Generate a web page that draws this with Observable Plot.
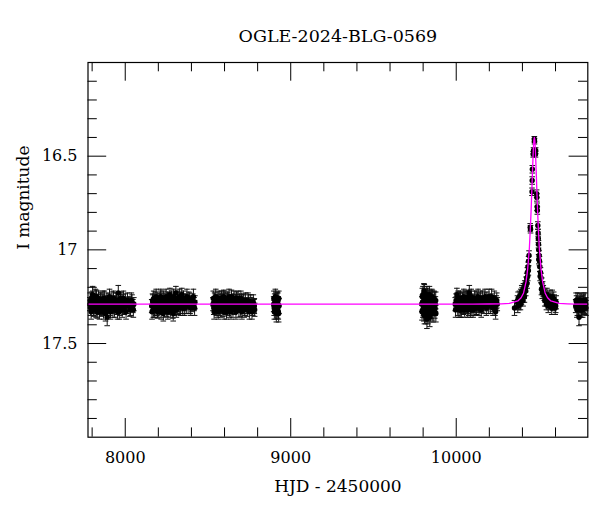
<!DOCTYPE html>
<html>
<head>
<meta charset="utf-8">
<script src="https://cdn.jsdelivr.net/npm/d3@7"></script>
<script src="https://cdn.jsdelivr.net/npm/@observablehq/plot@0.6"></script>
<style>
  html, body { margin: 0; padding: 0; background: #fff; }
  #chart { width: 600px; height: 512px; }
</style>
</head>
<body>
<div id="chart"></div>
<script>
const title = "OGLE-2024-BLG-0569";
const xLabel = "HJD - 2450000";
const yLabel = "I magnitude";
const xDomain = [7775, 10795];
const yDomain = [16, 18];
const xMajorTicks = [8000, 9000, 10000];
const xMinorTicks = [7800, 8200, 8400, 8600, 8800, 9200, 9400, 9600, 9800, 10200, 10400, 10600];
const yMajorTicks = [16.5, 17, 17.5];
const yMinorTicks = [16.1, 16.2, 16.3, 16.4, 16.6, 16.7, 16.8, 16.9, 17.1, 17.2, 17.3, 17.4, 17.6, 17.7, 17.8, 17.9];

// [HJD-2450000, I mag, error]
const season2017 = [[7786,17.29,.035],[7791,17.31,.04],[7796,17.26,.035],[7801,17.30,.035],[7803,17.24,.045],[7806,17.28,.04],[7811,17.32,.035],[7816,17.27,.035],[7821,17.30,.04],[7826,17.25,.035],[7831,17.33,.035],[7836,17.28,.04],[7841,17.31,.035],[7846,17.29,.035],[7851,17.27,.04],[7856,17.32,.035],[7861,17.29,.035],[7866,17.26,.04],[7871,17.31,.035],[7876,17.30,.035],[7881,17.34,.04],[7886,17.28,.035],[7891,17.36,.045],[7896,17.29,.035],[7902,17.27,.035],[7908,17.31,.04],[7914,17.29,.035],[7920,17.26,.035],[7926,17.32,.04],[7932,17.28,.035],[7938,17.30,.035],[7944,17.27,.04],[7950,17.31,.035],[7957,17.29,.035],[7958,17.23,.04],[7964,17.33,.04],[7971,17.26,.035],[7978,17.30,.035],[7985,17.28,.04],[7993,17.31,.035],[8001,17.27,.035],[8010,17.30,.04],[8019,17.29,.035],[8028,17.32,.035],[8037,17.27,.04],[8046,17.30,.035],[8052,17.29,.035],
  [7788,17.27,.04],[7794,17.33,.04],[7799,17.29,.04],[7804,17.26,.04],[7809,17.31,.04],[7814,17.29,.04],[7819,17.25,.04],[7824,17.32,.04],[7829,17.28,.04],[7834,17.30,.04],[7839,17.26,.04],[7844,17.33,.04],[7849,17.30,.04],[7854,17.27,.04],[7859,17.31,.04],[7864,17.28,.04],[7869,17.33,.04],[7874,17.26,.04],[7879,17.29,.04],[7884,17.31,.04],[7889,17.27,.04],[7894,17.32,.04],[7899,17.30,.04],[7905,17.25,.04],[7911,17.33,.04],[7917,17.29,.04],[7923,17.30,.04],[7929,17.26,.04],[7935,17.32,.04],[7941,17.29,.04],[7947,17.27,.04],[7953,17.33,.04],[7961,17.28,.04],[7968,17.31,.04],[7975,17.27,.04],[7982,17.32,.04],[7989,17.26,.04],[7997,17.30,.04],[8005,17.33,.04],[8014,17.27,.04],[8023,17.29,.04],[8032,17.31,.04],[8041,17.28,.04],[8049,17.32,.04]];
const season2018 = [[8160,17.30,.035],[8165,17.27,.035],[8170,17.32,.04],[8175,17.29,.035],[8180,17.26,.035],[8185,17.31,.04],[8190,17.28,.035],[8195,17.33,.035],[8200,17.29,.04],[8205,17.27,.035],[8210,17.30,.035],[8215,17.25,.04],[8220,17.31,.035],[8225,17.28,.035],[8230,17.34,.04],[8235,17.29,.035],[8240,17.27,.035],[8245,17.30,.04],[8250,17.32,.035],[8255,17.26,.035],[8260,17.29,.04],[8265,17.31,.035],[8270,17.24,.035],[8276,17.30,.04],[8282,17.28,.035],[8288,17.33,.035],[8290,17.34,.04],[8294,17.27,.04],[8300,17.30,.035],[8306,17.23,.035],[8312,17.29,.04],[8318,17.31,.035],[8324,17.26,.035],[8330,17.30,.04],[8336,17.28,.035],[8342,17.24,.035],[8348,17.31,.04],[8355,17.29,.035],[8362,17.27,.035],[8369,17.30,.04],[8376,17.28,.035],[8384,17.26,.035],[8392,17.30,.04],[8400,17.28,.035],[8408,17.27,.035],[8416,17.29,.035],[8421,17.28,.035],
  [8162,17.33,.04],[8167,17.28,.04],[8172,17.26,.04],[8177,17.32,.04],[8182,17.29,.04],[8187,17.25,.04],[8192,17.31,.04],[8197,17.27,.04],[8202,17.32,.04],[8207,17.30,.04],[8212,17.26,.04],[8217,17.33,.04],[8222,17.27,.04],[8227,17.30,.04],[8232,17.26,.04],[8237,17.32,.04],[8242,17.29,.04],[8247,17.25,.04],[8252,17.30,.04],[8257,17.33,.04],[8262,17.27,.04],[8267,17.29,.04],[8273,17.32,.04],[8279,17.26,.04],[8285,17.29,.04],[8291,17.25,.04],[8297,17.31,.04],[8303,17.28,.04],[8309,17.32,.04],[8315,17.26,.04],[8321,17.29,.04],[8327,17.25,.04],[8333,17.31,.04],[8339,17.27,.04],[8345,17.30,.04],[8352,17.26,.04],[8359,17.31,.04],[8366,17.28,.04],[8373,17.25,.04],[8380,17.30,.04],[8388,17.27,.04],[8396,17.31,.04],[8404,17.29,.04],[8412,17.25,.04],[8419,17.31,.04]];
const season2019 = [[8530,17.29,.035],[8535,17.31,.035],[8540,17.27,.04],[8545,17.30,.035],[8550,17.28,.035],[8555,17.32,.04],[8560,17.26,.035],[8565,17.29,.035],[8570,17.31,.04],[8575,17.27,.035],[8580,17.30,.035],[8585,17.28,.04],[8590,17.32,.035],[8595,17.25,.035],[8600,17.29,.04],[8605,17.31,.035],[8610,17.27,.035],[8615,17.30,.04],[8620,17.26,.035],[8625,17.29,.035],[8630,17.32,.04],[8636,17.28,.035],[8642,17.25,.035],[8648,17.30,.04],[8654,17.27,.035],[8660,17.31,.035],[8666,17.28,.04],[8672,17.26,.035],[8678,17.30,.035],[8684,17.29,.04],[8690,17.27,.035],[8696,17.32,.035],[8702,17.28,.04],[8709,17.30,.035],[8716,17.27,.035],[8723,17.31,.04],[8730,17.29,.035],[8738,17.32,.035],[8746,17.28,.04],[8754,17.30,.035],[8762,17.29,.035],[8770,17.31,.04],[8778,17.30,.035],[8782,17.32,.035],
  [8532,17.26,.04],[8537,17.33,.04],[8542,17.29,.04],[8547,17.25,.04],[8552,17.31,.04],[8557,17.28,.04],[8562,17.33,.04],[8567,17.26,.04],[8572,17.30,.04],[8577,17.32,.04],[8582,17.26,.04],[8587,17.30,.04],[8592,17.27,.04],[8597,17.33,.04],[8602,17.26,.04],[8607,17.29,.04],[8612,17.33,.04],[8617,17.27,.04],[8622,17.31,.04],[8627,17.25,.04],[8633,17.30,.04],[8639,17.33,.04],[8645,17.28,.04],[8651,17.32,.04],[8657,17.26,.04],[8663,17.30,.04],[8669,17.33,.04],[8675,17.28,.04],[8681,17.26,.04],[8687,17.32,.04],[8693,17.29,.04],[8699,17.26,.04],[8705,17.33,.04],[8712,17.28,.04],[8719,17.32,.04],[8726,17.27,.04],[8734,17.30,.04],[8742,17.27,.04],[8750,17.33,.04],[8758,17.28,.04],[8766,17.33,.04],[8774,17.28,.04],[8780,17.30,.04]];
const season2020 = [[8897,17.29,.04],[8900,17.31,.04],[8903,17.27,.035],[8906,17.30,.04],[8909,17.33,.04],[8912,17.28,.035],[8915,17.30,.04],[8918,17.26,.035],[8921,17.32,.045],[8924,17.29,.04],[8927,17.34,.045],[8929,17.30,.04],
  [8898,17.26,.04],[8901,17.33,.04],[8904,17.29,.04],[8907,17.25,.04],[8910,17.31,.04],[8913,17.34,.045],[8916,17.27,.04],[8919,17.31,.04],[8922,17.27,.04],[8925,17.33,.04],[8928,17.26,.04]];
const season2022 = [[9792,17.29,.04],[9795,17.25,.045],[9798,17.32,.04],[9801,17.28,.045],[9804,17.34,.04],[9805,17.22,.04],[9807,17.23,.045],[9810,17.30,.04],[9813,17.27,.045],[9816,17.35,.045],[9819,17.29,.04],[9822,17.24,.045],[9823,17.37,.05],[9825,17.31,.04],[9828,17.28,.045],[9831,17.33,.04],[9834,17.26,.045],[9837,17.30,.04],[9840,17.36,.05],[9843,17.27,.045],[9846,17.31,.04],[9849,17.29,.045],[9852,17.25,.04],[9855,17.33,.045],[9858,17.28,.04],[9862,17.30,.045],[9866,17.26,.04],[9870,17.32,.045],[9874,17.29,.04],[9877,17.34,.045],
  [9793,17.33,.045],[9796,17.28,.04],[9799,17.24,.045],[9802,17.31,.04],[9808,17.35,.045],[9811,17.26,.04],[9814,17.32,.045],[9817,17.25,.04],[9820,17.33,.045],[9826,17.25,.045],[9829,17.35,.045],[9832,17.27,.04],[9835,17.32,.045],[9838,17.24,.045],[9841,17.29,.04],[9844,17.34,.045],[9847,17.26,.04],[9850,17.32,.045],[9853,17.29,.04],[9856,17.26,.045],[9860,17.34,.045],[9864,17.29,.04],[9868,17.27,.045],[9872,17.31,.04],[9876,17.27,.045]];
const season2023 = [[9994,17.29,.035],[9999,17.27,.035],[10004,17.24,.035],[10009,17.31,.04],[10014,17.29,.035],[10019,17.26,.035],[10024,17.32,.04],[10029,17.28,.035],[10034,17.30,.035],[10039,17.27,.04],[10044,17.31,.035],[10049,17.29,.035],[10054,17.26,.04],[10059,17.30,.035],[10064,17.28,.035],[10069,17.32,.04],[10074,17.25,.035],[10079,17.23,.04],[10084,17.29,.035],[10089,17.27,.035],[10094,17.31,.04],[10099,17.28,.035],[10105,17.30,.035],[10111,17.26,.04],[10117,17.29,.035],[10123,17.31,.035],[10129,17.27,.04],[10135,17.30,.035],[10141,17.28,.035],[10148,17.26,.04],[10155,17.30,.035],[10162,17.28,.035],[10170,17.27,.04],[10178,17.29,.035],[10186,17.26,.035],[10194,17.30,.04],[10202,17.28,.035],[10210,17.27,.035],[10218,17.29,.04],[10226,17.28,.035],[10234,17.31,.04],[10242,17.28,.035],[10248,17.29,.035],
  [9996,17.32,.04],[10001,17.29,.04],[10006,17.27,.04],[10011,17.26,.04],[10016,17.32,.04],[10021,17.29,.04],[10026,17.26,.04],[10031,17.32,.04],[10036,17.27,.04],[10041,17.30,.04],[10046,17.25,.04],[10051,17.32,.04],[10056,17.29,.04],[10061,17.26,.04],[10066,17.30,.04],[10071,17.27,.04],[10076,17.31,.04],[10081,17.26,.04],[10086,17.32,.04],[10091,17.25,.04],[10096,17.29,.04],[10102,17.32,.04],[10108,17.28,.04],[10114,17.31,.04],[10120,17.26,.04],[10126,17.29,.04],[10132,17.25,.04],[10138,17.31,.04],[10144,17.27,.04],[10151,17.32,.04],[10158,17.26,.04],[10166,17.30,.04],[10174,17.25,.04],[10182,17.31,.04],[10190,17.28,.04],[10198,17.25,.04],[10206,17.30,.04],[10214,17.25,.04],[10222,17.31,.04],[10230,17.26,.04],[10238,17.33,.04],[10245,17.27,.04]];
const season2024 = [[10352,17.31,.04],[10370,17.28,.035],[10374,17.26,.035],[10378,17.29,.03],[10382,17.25,.03],[10386,17.27,.03],[10390,17.24,.03],[10394,17.26,.03],[10398,17.23,.03],[10402,17.25,.03],[10406,17.21,.03],[10410,17.23,.03],[10414,17.19,.025],[10418,17.20,.025],[10422,17.17,.025],[10426,17.15,.025],[10430,17.12,.025],[10434,17.09,.025],[10437,17.06,.025],[10440,17.03,.025],[10447,16.88,.02],[10449,16.89,.02],[10458,16.69,.02],[10459,16.63,.02],[10460,16.57,.02],[10465,16.49,.015],[10467,16.47,.015],[10472,16.41,.015],[10473,16.42,.015],[10479,16.49,.015],[10480,16.47,.015],[10486,16.70,.02],[10487,16.72,.02],[10489,16.77,.02],[10490,16.79,.02],[10493,16.87,.02],[10495,16.91,.02],[10496,16.94,.02],[10497,16.97,.02],[10498,17.00,.025],[10501,17.03,.025],[10503,17.06,.025],[10505,17.09,.025],[10509,17.12,.025],[10512,17.15,.025],[10517,17.18,.03],[10522,17.20,.03],[10526,17.22,.03],[10532,17.24,.03],[10538,17.25,.03],[10543,17.27,.03],[10548,17.24,.035],[10553,17.28,.03],[10558,17.26,.035],[10563,17.29,.03],[10568,17.27,.035],[10573,17.28,.03],[10580,17.25,.035],[10586,17.29,.035],[10592,17.27,.03],[10598,17.31,.035],[10604,17.28,.035],
  [10372,17.30,.035],[10380,17.28,.03],[10388,17.29,.03],[10396,17.22,.03],[10404,17.27,.03],[10412,17.25,.03],[10420,17.22,.025],[10428,17.18,.025],[10432,17.14,.025],[10436,17.11,.025],[10499,17.05,.025],[10507,17.14,.025],[10515,17.21,.03],[10520,17.23,.03],[10535,17.27,.03],[10545,17.29,.03],[10556,17.30,.035],[10566,17.25,.035],[10577,17.31,.035],[10589,17.26,.035],[10601,17.30,.035]];
const season2025 = [[10722,17.30,.035],[10727,17.28,.035],[10732,17.31,.04],[10737,17.29,.035],[10742,17.36,.045],[10747,17.27,.035],[10752,17.30,.035],[10757,17.32,.04],[10762,17.28,.035],[10767,17.30,.035],[10772,17.27,.04],[10777,17.31,.035],[10782,17.29,.035],
  [10724,17.27,.04],[10729,17.32,.04],[10734,17.27,.04],[10739,17.31,.04],[10744,17.29,.04],[10749,17.32,.04],[10754,17.27,.04],[10759,17.29,.04],[10764,17.32,.04],[10769,17.28,.04],[10774,17.30,.04],[10779,17.27,.04],[10784,17.31,.04]];

// model curve
const modelT =   [7775, 10100, 10200, 10272, 10322, 10372, 10392, 10407, 10422, 10432, 10442, 10447, 10452, 10457, 10460, 10463, 10466, 10469, 10472, 10475, 10478, 10481, 10484, 10487, 10492, 10497, 10502, 10512, 10522, 10537, 10552, 10572, 10622, 10672, 10722, 10795];
const modelMag = [17.29, 17.29, 17.289, 17.288, 17.286, 17.273, 17.256, 17.23, 17.17, 17.10, 16.99, 16.90, 16.80, 16.68, 16.60, 16.53, 16.46, 16.416, 16.40, 16.416, 16.46, 16.53, 16.60, 16.68, 16.80, 16.90, 16.99, 17.10, 17.17, 17.23, 17.256, 17.273, 17.286, 17.288, 17.29, 17.29];

const points = [season2017, season2018, season2019, season2020, season2022, season2023, season2024, season2025]
  .flat().map(([t, m, e]) => ({t, m, e}));
const model = modelT.map((t, i) => ({t, m: modelMag[i]}));

const W = 600, H = 512;
const mL = 87.5, mR = 12.7, mT = 62, mB = 75.3;
const frameH = H - mT - mB, frameW = W - mL - mR;
const majorLen = 18.7, minorLen = 9.3;

const cap = {
  draw(context, size) {
    const w = Math.sqrt(size / Math.PI);
    context.moveTo(-w, 0);
    context.lineTo(w, 0);
  }
};

const chart = Plot.plot({
  width: W,
  height: H,
  marginLeft: mL, marginRight: mR, marginTop: mT, marginBottom: mB,
  style: {fontFamily: "'DejaVu Serif', serif", fontSize: "16px", background: "#fff", color: "#000"},
  x: {domain: xDomain, axis: null},
  y: {domain: yDomain, reverse: true, axis: null},
  marks: [
    Plot.ruleX(points, {x: "t", y1: d => d.m - d.e, y2: d => d.m + d.e, stroke: "#111", strokeWidth: 1}),
    Plot.dot(points, {x: "t", y: d => d.m - d.e, symbol: cap, r: 2.8, stroke: "#111", strokeWidth: 1, fill: "none"}),
    Plot.dot(points, {x: "t", y: d => d.m + d.e, symbol: cap, r: 2.8, stroke: "#111", strokeWidth: 1, fill: "none"}),
    Plot.dot(points, {x: "t", y: "m", r: 2.7, fill: "#000", stroke: "none"}),
    Plot.line(model, {x: "t", y: "m", stroke: "#ff00ff", strokeWidth: 1.3}),
    Plot.tickX(xMajorTicks, {x: d => d, insetTop: frameH - majorLen, stroke: "#000", strokeWidth: 1}),
    Plot.tickX(xMinorTicks, {x: d => d, insetTop: frameH - minorLen, stroke: "#000", strokeWidth: 1}),
    Plot.tickX(xMajorTicks, {x: d => d, insetBottom: frameH - majorLen, stroke: "#000", strokeWidth: 1}),
    Plot.tickX(xMinorTicks, {x: d => d, insetBottom: frameH - minorLen, stroke: "#000", strokeWidth: 1}),
    Plot.tickY(yMajorTicks, {y: d => d, insetRight: frameW - majorLen, stroke: "#000", strokeWidth: 1}),
    Plot.tickY(yMinorTicks, {y: d => d, insetRight: frameW - minorLen, stroke: "#000", strokeWidth: 1}),
    Plot.tickY(yMajorTicks, {y: d => d, insetLeft: frameW - majorLen, stroke: "#000", strokeWidth: 1}),
    Plot.tickY(yMinorTicks, {y: d => d, insetLeft: frameW - minorLen, stroke: "#000", strokeWidth: 1}),
    Plot.frame({stroke: "#000", strokeWidth: 1.2}),
    Plot.axisX(xMajorTicks, {tickSize: 0, tickPadding: 14, tickFormat: d => String(d), label: null, fontSize: 16}),
    Plot.axisY(yMajorTicks, {tickSize: 0, tickPadding: 10.5, tickFormat: d => String(d), label: null, fontSize: 16}),
    Plot.text([title], {frameAnchor: "top", dy: -21, lineAnchor: "bottom", fontSize: 17.5, text: d => d}),
    Plot.text([xLabel], {frameAnchor: "bottom", dy: 54.5, lineAnchor: "bottom", fontSize: 17, text: d => d}),
    Plot.text([yLabel], {frameAnchor: "left", dx: -64.5, rotate: -90, lineAnchor: "middle", fontSize: 17, text: d => d})
  ]
});
document.getElementById("chart").appendChild(chart);
</script>
</body>
</html>
